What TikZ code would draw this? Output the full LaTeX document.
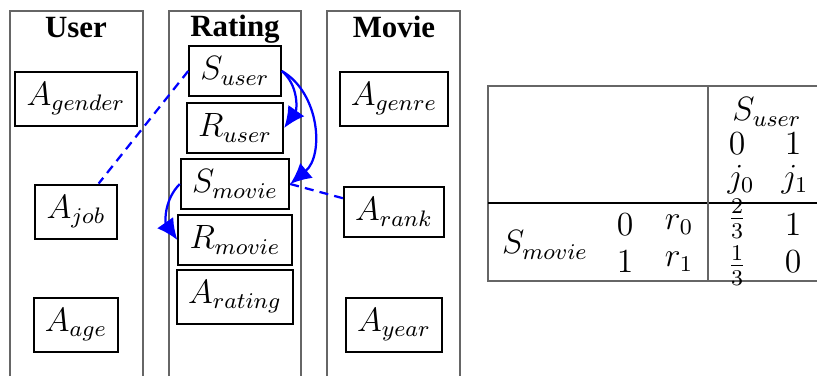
\documentclass[tikz,border=0pt,12pt]{standalone}
\usepackage{amsmath}
\usepackage{fontspec}
\setmainfont{Liberation Serif}
\usetikzlibrary{arrows.meta}

\begin{document}
\begin{tikzpicture}[%
x=0.356pt, y=-0.356pt,
attr/.style={draw, line width=0.7pt},
colframe/.style={draw=black!60, line width=0.4pt},
coltitle/.style={anchor=base, font=\fontsize{11}{13}\selectfont\bfseries},
fklink/.style={blue, thick, -{Latex[length=7.5pt,width=7pt]}},
keyline/.style={blue, thick, dash pattern=on 3.2pt off 2.2pt}]
\useasboundingbox (0,0) rectangle (817,376);

% tables
\draw[colframe] (10,376) |- (143,11) -- (143,376);
\draw[colframe] (169,376) |- (301,11) -- (301,376);
\draw[colframe] (327,376) |- (460,11) -- (460,376);
\node[coltitle] (tuser) at (76,37) {User};
\node[coltitle] (trating) at (235,36) {Rating};
\node[coltitle] (tmovie) at (394,37) {Movie};

\node[attr] (agender) at (76,99) {$A_{gender}$};
\node[attr] (ajob) at (76,212) {$A_{job}$};
\node[attr] (aage) at (76,325) {$A_{age}$};

\node[attr] (suser) at (235,71) {$S_{user}$};
\node[attr] (ruser) at (235,128) {$R_{user}$};
\node[attr] (smovie) at (235,184) {$S_{movie}$};
\node[attr] (rmovie) at (235,240) {$R_{movie}$};
\node[attr] (arating) at (235,297) {$A_{rating}$};

\node[attr] (agenre) at (394,99) {$A_{genre}$};
\node[attr] (arank) at (394,212) {$A_{rank}$};
\node[attr] (ayear) at (394,325) {$A_{year}$};

\draw[keyline] (suser.west) -- (ajob);
\draw[keyline] (smovie.east) -- (arank);
\draw[fklink] (suser.east) to[out=-40, in=55] (ruser.east);
\draw[fklink] (suser.east) to[out=-30, in=40] (smovie.east);
\draw[fklink] (smovie.west) to[out=225, in=125] (rmovie.west);

% cpd
\draw[colframe] (817,86) -| (488,281) -- (817,281);
\draw (488,203) -- (817,203);
\draw[colframe] (708,86) -- (708,281);
\node (csuser) at (767,112) {$S_{user}$};
\node (cu0) at (737,144) {$0$};
\node (cu1) at (793,144) {$1$};
\node (cj0) at (741,180) {$j_0$};
\node (cj1) at (795,180) {$j_1$};
\node (csmovie) at (545,245) {$S_{movie}$};
\node (cm0) at (625,225) {$0$};
\node (cm1) at (625,262) {$1$};
\node (cr0) at (679,225) {$r_0$};
\node (cr1) at (679,262) {$r_1$};
\node (cp00) at (737,219) {$\frac{2}{3}$};
\node (cp01) at (793,225) {$1$};
\node (cp10) at (737,266) {$\frac{1}{3}$};
\node (cp11) at (793,262) {$0$};
\end{tikzpicture}
\end{document}
